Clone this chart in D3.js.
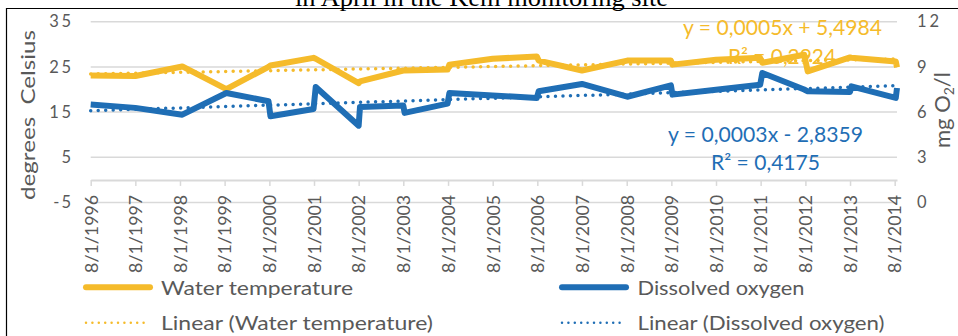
<!DOCTYPE html>
<html>
<head>
<meta charset="utf-8">
<script src="https://cdn.jsdelivr.net/npm/d3@7"></script>
<style>
  html, body { margin: 0; padding: 0; background: #fff; }
  svg { display: block; }
</style>
</head>
<body>
<svg id="chart" width="958" height="336"></svg>
<script>
// Sampling dates (two close samples in several years)
const sampleDates = [
  "8/1/1996", "8/1/1997", "8/20/1998", "8/15/1999", "7/25/2000", "8/10/2000",
  "7/28/2001", "8/15/2001", "8/1/2002", "8/12/2002", "8/1/2003", "8/12/2003",
  "7/28/2004", "8/12/2004", "8/1/2005", "7/28/2006", "8/12/2006", "8/1/2007",
  "8/5/2008", "7/28/2009", "8/10/2009", "8/1/2010", "7/28/2011", "8/15/2011",
  "7/22/2012", "8/20/2012", "8/1/2013", "8/12/2013", "8/10/2014", "8/20/2014"
];
// Water temperature, degrees Celsius (left axis)
const waterTemperature = [
  23.1, 23.0, 25.1, 20.1, 25.0, 25.3,
  27.0, 26.8, 21.4, 21.8, 24.2, 24.2,
  24.4, 25.5, 26.8, 27.3, 26.4, 24.2,
  26.4, 26.4, 25.5, 26.6, 27.0, 25.9,
  27.7, 24.0, 27.1, 27.0, 26.2, 24.9
];
// Dissolved oxygen, mg O2/l (right axis)
const dissolvedOxygen = [
  6.50, 6.28, 5.83, 7.27, 6.72, 5.72,
  6.21, 7.67, 5.10, 6.34, 6.43, 5.95,
  6.56, 7.27, 7.10, 6.94, 7.38, 7.87,
  7.02, 7.78, 7.16, 7.48, 7.82, 8.60,
  7.50, 7.38, 7.34, 7.71, 6.94, 7.60
];
const tickLabels = [
  "8/1/1996", "8/1/1997", "8/1/1998", "8/1/1999", "8/1/2000", "8/1/2001",
  "8/1/2002", "8/1/2003", "8/1/2004", "8/1/2005", "8/1/2006", "8/1/2007",
  "8/1/2008", "8/1/2009", "8/1/2010", "8/1/2011", "8/1/2012", "8/1/2013", "8/1/2014"
];
const leftTicks = [-5, 5, 15, 25, 35];
const rightTicks = [0, 3, 6, 9, 12];
const seriesNames = ["Water temperature", "Dissolved oxygen"];
const trendNames = ["Linear (Water temperature)", "Linear (Dissolved oxygen)"];
const trendLabels = [
  ["y = 0,0005x + 5,4984", "R\u00b2 = 0,2924"],
  ["y = 0,0003x - 2,8359", "R\u00b2 = 0,4175"]
];
const titleText = "in April in the Kem monitoring site";

const YELLOW = "#F5BB2B", BLUE = "#1F6EB5", GRID = "#D9D9D9", TEXT = "#595959";
const FONT = "Lato, 'Open Sans', sans-serif";

const parse = d3.timeParse("%m/%d/%Y");
const fmt = d3.timeFormat("%-m/%-d/%Y");
const numFmt = d => (d < 0 ? "-" : "") + Math.abs(d);
const data = sampleDates.map((s, i) => ({
  date: parse(s), temp: waterTemperature[i], oxy: dissolvedOxygen[i]
}));

const svg = d3.select("#chart");
const X0 = 90.7, X1 = 897, YT = 21.7, YB = 202.5;

const x = d3.scaleTime().domain(d3.extent(data, d => d.date)).range([X0, X1]);
const yL = d3.scaleLinear().domain([-5, 35]).range([YB, YT]);
const yR = d3.scaleLinear().domain([0, 12]).range([YB, YT]);

function fit(sel, len) {
  return sel.attr("textLength", len).attr("lengthAdjust", "spacingAndGlyphs");
}

// frame
svg.append("path")
  .attr("d", "M6.5,336V8.5H958")
  .attr("fill", "none").attr("stroke", "#000").attr("stroke-width", 1.2);

// title (top part runs off the page)
fit(svg.append("text")
  .attr("x", 295).attr("y", 6)
  .attr("font-family", "'Liberation Serif', 'Times New Roman', serif")
  .attr("font-size", 25).attr("fill", "#000")
  .text(titleText), 373);

// horizontal gridlines
svg.append("g").selectAll("line").data(leftTicks).join("line")
  .attr("x1", X0).attr("x2", X1)
  .attr("y1", d => yL(d)).attr("y2", d => yL(d))
  .attr("stroke", GRID).attr("stroke-width", 1.5);

// left axis labels
const gl = svg.append("g").attr("transform", `translate(${X0},0)`)
  .call(d3.axisLeft(yL).tickValues(leftTicks).tickFormat(numFmt).tickSize(0).tickPadding(19.5));
gl.select(".domain").remove();
gl.selectAll("text").attr("font-family", FONT).attr("font-size", 16.5)
  .attr("fill", TEXT)
  .each(function () { d3.select(this).attr("textLength", this.getComputedTextLength() * 1.15); });

// right axis labels
const gr = svg.append("g").attr("transform", `translate(${X1},0)`)
  .call(d3.axisRight(yR).tickValues(rightTicks).tickFormat(numFmt).tickSize(0).tickPadding(20));
gr.select(".domain").remove();
gr.selectAll("text").attr("font-family", FONT).attr("font-size", 16.5)
  .attr("fill", TEXT)
  .each(function () { d3.select(this).attr("textLength", this.getComputedTextLength() * 1.15); });

// date axis crossing at zero
const gx = svg.append("g").attr("transform", `translate(0,${yL(0)})`)
  .call(d3.axisBottom(x).tickValues(tickLabels.map(parse)).tickFormat(fmt)
    .tickSize(6).tickSizeOuter(0));
gx.select(".domain").attr("stroke", GRID).attr("stroke-width", 2);
gx.selectAll(".tick line").attr("stroke", GRID).attr("stroke-width", 1.5);
gx.selectAll(".tick text")
  .attr("font-family", FONT).attr("font-size", 18).attr("fill", TEXT)
  .attr("transform", "rotate(-90)")
  .attr("text-anchor", "end")
  .attr("x", -15).attr("y", 0).attr("dy", "0.35em")
  .attr("textLength", 78).attr("lengthAdjust", "spacingAndGlyphs");

// axis titles
fit(svg.append("text")
  .attr("transform", `translate(34.5,115) rotate(-90)`)
  .attr("text-anchor", "middle")
  .attr("font-family", FONT).attr("font-size", 20).attr("fill", TEXT)
  .style("white-space", "pre")
  .text("degrees  Celsius"), 170);

const rt = svg.append("text")
  .attr("transform", `translate(950,110) rotate(-90)`)
  .attr("text-anchor", "middle")
  .attr("font-family", FONT).attr("font-size", 22).attr("fill", TEXT);
rt.append("tspan").text("mg O");
rt.append("tspan").attr("font-size", 14).attr("dy", 4).text("2");
rt.append("tspan").attr("dy", -4).text("/l");

// series lines
const lineT = d3.line().x(d => x(d.date)).y(d => yL(d.temp));
const lineO = d3.line().x(d => x(d.date)).y(d => yR(d.oxy));
svg.append("path").datum(data).attr("d", lineT)
  .attr("fill", "none").attr("stroke", YELLOW).attr("stroke-width", 6)
  .attr("stroke-linejoin", "round");
svg.append("path").datum(data).attr("d", lineO)
  .attr("fill", "none").attr("stroke", BLUE).attr("stroke-width", 6)
  .attr("stroke-linejoin", "round");

// least-squares trend lines
function regress(xs, ys) {
  const mx = d3.mean(xs), my = d3.mean(ys);
  let sxy = 0, sxx = 0;
  xs.forEach((v, i) => { sxy += (v - mx) * (ys[i] - my); sxx += (v - mx) * (v - mx); });
  const b = sxy / sxx;
  return t => my + b * (t - mx);
}
const tx = data.map(d => +d.date);
const fT = regress(tx, waterTemperature);
const fO = regress(tx, dissolvedOxygen);
const ends = d3.extent(tx);
const trend = (f, y) => d3.line().x(t => x(new Date(t))).y(t => y(f(t)))(ends);
svg.append("path").attr("d", trend(fT, yL))
  .attr("fill", "none").attr("stroke", YELLOW).attr("stroke-width", 3.5)
  .attr("stroke-linecap", "round").attr("stroke-dasharray", "0 7.5");
svg.append("path").attr("d", trend(fO, yR))
  .attr("fill", "none").attr("stroke", BLUE).attr("stroke-width", 3.5)
  .attr("stroke-linecap", "round").attr("stroke-dasharray", "0 7.5");

// trend equations
const eq = [
  { c: YELLOW, rows: [[683, 35, 199], [728, 64, 108]] },
  { c: BLUE, rows: [[668, 141.7, 195], [711, 170, 109]] }
];
eq.forEach((e, i) => {
  e.rows.forEach((r, j) => {
    fit(svg.append("text").attr("x", r[0]).attr("y", r[1])
      .attr("font-family", FONT).attr("font-size", 21).attr("fill", e.c)
      .text(trendLabels[i][j]), r[2]);
  });
});

// legend
const legend = [
  { name: seriesNames[0], c: YELLOW, dotted: false, x: 83, y: 287.3, tx: 161, w: 192 },
  { name: seriesNames[1], c: BLUE, dotted: false, x: 559, y: 287.3, tx: 637.5, w: 167 },
  { name: trendNames[0], c: YELLOW, dotted: true, x: 83, y: 322.7, tx: 161, w: 272 },
  { name: trendNames[1], c: BLUE, dotted: true, x: 559, y: 322.7, tx: 637.5, w: 247 }
];
const lg = svg.append("g");
legend.forEach(l => {
  const ln = lg.append("line")
    .attr("x1", l.x + 3).attr("x2", l.x + 67)
    .attr("y1", l.y).attr("y2", l.y)
    .attr("stroke", l.c).attr("stroke-linecap", "round");
  if (l.dotted) ln.attr("stroke-width", 2.5).attr("stroke-dasharray", "0 6.4");
  else ln.attr("stroke-width", 6);
  fit(lg.append("text").attr("x", l.tx).attr("y", l.y + 7.5)
    .attr("font-family", FONT).attr("font-size", 20).attr("fill", TEXT)
    .text(l.name), l.w);
});
</script>
</body>
</html>
